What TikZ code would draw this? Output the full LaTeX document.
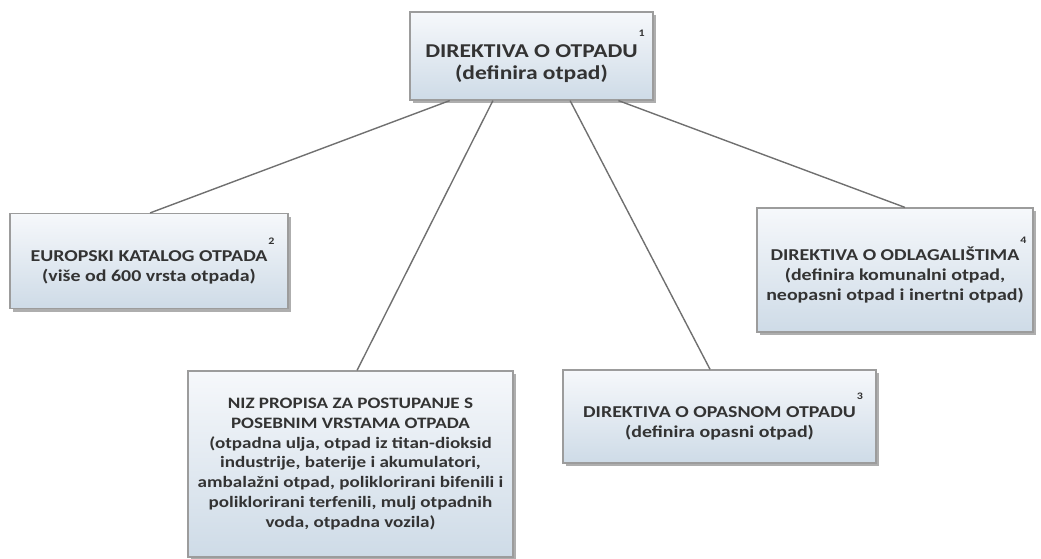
\documentclass[tikz,border=0pt]{standalone}
\usepackage{fontspec}
\setmainfont[FakeStretch=1.2]{Carlito}
\usetikzlibrary{calc,shadows}
\definecolor{txt}{HTML}{333333}
\definecolor{edge}{HTML}{9C9C9C}
\definecolor{gtop}{HTML}{F6F8FB}
\definecolor{gbot}{HTML}{CEDBE7}
\definecolor{link}{HTML}{707070}
\newcommand{\supn}[1]{\rlap{\kern1pt\raisebox{1.05em}{\fontsize{10}{10}\selectfont #1}}}
\tikzset{
  box/.style={draw=edge, line width=1.2pt, top color=gtop, bottom color=gbot,
    text=txt, font=\bfseries\fontsize{16.6}{20.2}\selectfont, align=center,
    inner sep=0pt, anchor=center,
    drop shadow={shadow xshift=2.5pt, shadow yshift=-3pt, opacity=0.45, fill=black!70}},
  bigbox/.style={box, font=\bfseries\fontsize{19.6}{22}\selectfont},
  longbox/.style={box, font=\bfseries\fontsize{15.9}{19.8}\selectfont},
  conn/.style={draw=link, line width=1.4pt}
}
\begin{document}
\begin{tikzpicture}[x=1pt,y=-1pt]
\useasboundingbox (0,0) rectangle (1041,558);
\node[bigbox, minimum width=243pt, minimum height=88pt] (top) at (531.5,56)
  {DIREKTIVA O OTPADU\supn{1}\\(definira otpad)};
\node[box, minimum width=278pt, minimum height=95pt] (eu) at (149,261)
  {EUROPSKI KATALOG OTPADA\supn{2}\\(više od 600 vrsta otpada)};
\node[box, minimum width=276pt, minimum height=124pt] (odl) at (895,270)
  {DIREKTIVA O ODLAGALIŠTIMA\supn{4}\\(definira komunalni otpad,\\neopasni otpad i inertni otpad)};
\node[longbox, minimum width=325pt, minimum height=186pt] (niz) at (350.5,464)
  {NIZ PROPISA ZA POSTUPANJE S\\POSEBNIM VRSTAMA OTPADA\\(otpadna ulja, otpad iz titan-dioksid\\industrije, baterije i akumulatori,\\ambalažni otpad, poliklorirani bifenili i\\poliklorirani terfenili, mulj otpadnih\\voda, otpadna vozila)};
\node[box, minimum width=313pt, minimum height=93pt] (opa) at (719.5,416.5)
  {DIREKTIVA O OPASNOM OTPADU\supn{3}\\(definira opasni otpad)};
\draw[conn] ($(top.south west)!0.165!(top.south east)$) -- ($(eu.north west)!0.504!(eu.north east)$);
\draw[conn] ($(top.south west)!0.342!(top.south east)$) -- ($(niz.north west)!0.52!(niz.north east)$);
\draw[conn] ($(top.south west)!0.658!(top.south east)$) -- ($(opa.north west)!0.47!(opa.north east)$);
\draw[conn] ($(top.south west)!0.856!(top.south east)$) -- ($(odl.north west)!0.536!(odl.north east)$);
\end{tikzpicture}
\end{document}
